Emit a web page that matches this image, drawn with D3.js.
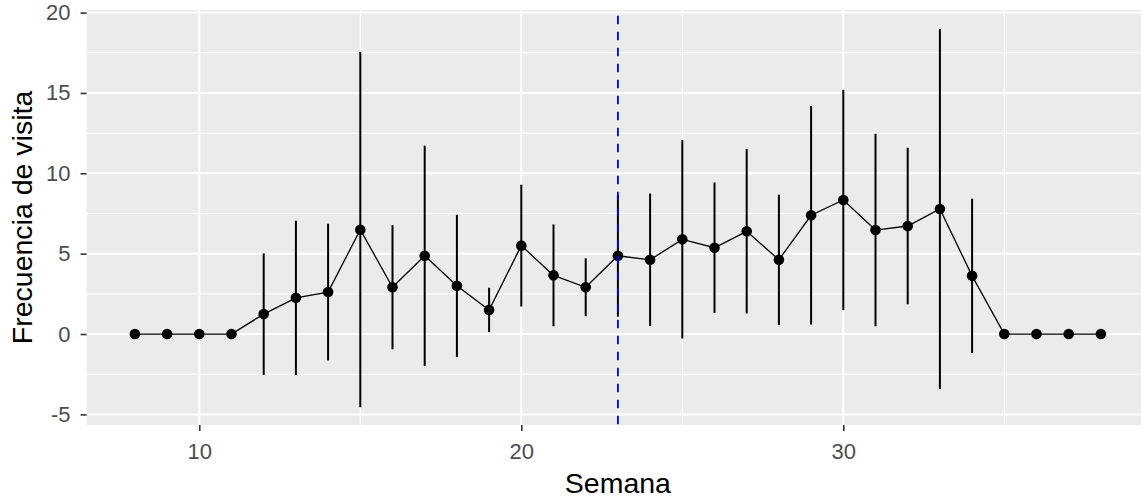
<!DOCTYPE html>
<html>
<head>
<meta charset="utf-8">
<script src="https://cdn.jsdelivr.net/npm/d3@7"></script>
<style>
  html, body { margin: 0; padding: 0; background: #fff; }
  svg { display: block; }
  text { font-family: "Liberation Sans", Arial, sans-serif; }
</style>
</head>
<body>
<svg id="chart" width="1141" height="498"></svg>
<script>
// ---- data ----
const weeks = [8,9,10,11,12,13,14,15,16,17,18,19,20,21,22,23,24,25,26,27,28,29,30,31,32,33,34,35,36,37,38];
const means = [0,0,0,0,1.24,2.25,2.61,6.49,2.91,4.87,3.0,1.5,5.5,3.65,2.91,4.87,4.62,5.89,5.37,6.39,4.62,7.39,8.34,6.47,6.72,7.78,3.62,0,0,0,0];
const sds   = [null,null,null,null,3.78,4.80,4.25,11.05,3.86,6.85,4.42,1.38,3.79,3.17,1.80,3.79,4.12,6.17,4.06,5.11,4.05,6.80,6.86,5.99,4.87,11.2,4.8,null,null,null,null];
const xTicks = [10,20,30];
const xMinor = [15,25,35];
const yTicks = [-5,0,5,10,15,20];
const yMinor = [-2.5,2.5,7.5,12.5,17.5];
const vlineWeek = 23;
const xTitle = "Semana";
const yTitle = "Frecuencia de visita";

// ---- layout ----
const svg = d3.select("#chart");
const panel = {left: 86.6, right: 1149.2, top: 10, bottom: 425};
const x = d3.scaleLinear().domain([6.5, 39.5]).range([panel.left, panel.right]);
const y = d3.scaleLinear().domain([-5.66, 20.16]).range([panel.bottom, panel.top]);
const fmt = d => String(d); // ASCII hyphen for negatives, as in the original

// panel background
svg.append("rect")
  .attr("x", panel.left).attr("y", panel.top)
  .attr("width", panel.right - panel.left).attr("height", panel.bottom - panel.top)
  .attr("fill", "#EBEBEB");

const grid = svg.append("g");
grid.selectAll(".ym").data(yMinor).join("line")
  .attr("x1", panel.left).attr("x2", panel.right)
  .attr("y1", d => y(d)).attr("y2", d => y(d))
  .attr("stroke", "#fff").attr("stroke-width", 1);
grid.selectAll(".xm").data(xMinor).join("line")
  .attr("y1", panel.top).attr("y2", panel.bottom)
  .attr("x1", d => x(d)).attr("x2", d => x(d))
  .attr("stroke", "#fff").attr("stroke-width", 1);
grid.selectAll(".yM").data(yTicks).join("line")
  .attr("x1", panel.left).attr("x2", panel.right)
  .attr("y1", d => y(d)).attr("y2", d => y(d))
  .attr("stroke", "#fff").attr("stroke-width", 2);
grid.selectAll(".xM").data(xTicks).join("line")
  .attr("y1", panel.top).attr("y2", panel.bottom)
  .attr("x1", d => x(d)).attr("x2", d => x(d))
  .attr("stroke", "#fff").attr("stroke-width", 2);

// axes
const xAxis = d3.axisBottom(x).tickValues(xTicks).tickSize(6).tickPadding(12).tickFormat(fmt);
const gx = svg.append("g").attr("transform", `translate(0,${panel.bottom})`).call(xAxis);
gx.select(".domain").remove();
gx.selectAll(".tick line").attr("stroke", "#333333").attr("stroke-width", 1.6);
gx.selectAll(".tick text").attr("fill", "#4D4D4D").attr("font-size", 22);

const yAxis = d3.axisLeft(y).tickValues(yTicks).tickSize(6).tickPadding(10).tickFormat(fmt);
const gy = svg.append("g").attr("transform", `translate(${panel.left},0)`).call(yAxis);
gy.select(".domain").remove();
gy.selectAll(".tick line").attr("stroke", "#333333").attr("stroke-width", 1.6);
gy.selectAll(".tick text").attr("fill", "#4D4D4D").attr("font-size", 22);

// titles
svg.append("text").attr("x", (panel.left + panel.right) / 2).attr("y", 493)
  .attr("text-anchor", "middle").attr("font-size", 28.5).attr("fill", "#000").text(xTitle);
svg.append("text")
  .attr("transform", `translate(32,${(panel.top + panel.bottom) / 2}) rotate(-90)`)
  .attr("text-anchor", "middle").attr("font-size", 28.5).attr("fill", "#000").text(yTitle);

// data
const data = weeks.map((w, i) => ({w, m: means[i], s: sds[i]}));
const plot = svg.append("g");

plot.selectAll(".err").data(data.filter(d => d.s != null)).join("line")
  .attr("x1", d => x(d.w)).attr("x2", d => x(d.w))
  .attr("y1", d => y(d.m - d.s)).attr("y2", d => y(d.m + d.s))
  .attr("stroke", "#000").attr("stroke-width", 2);

plot.append("path").datum(data)
  .attr("d", d3.line().x(d => x(d.w)).y(d => y(d.m)))
  .attr("fill", "none").attr("stroke", "#000").attr("stroke-width", 1.3);

plot.selectAll(".pt").data(data).join("circle")
  .attr("cx", d => x(d.w)).attr("cy", d => y(d.m)).attr("r", 5.3)
  .attr("fill", "#000");

// vertical dashed line
svg.append("line")
  .attr("x1", x(vlineWeek)).attr("x2", x(vlineWeek))
  .attr("y1", panel.top).attr("y2", panel.bottom)
  .attr("stroke", "#0000FF").attr("stroke-width", 1.8)
  .attr("stroke-dasharray", "8.5,7.5").attr("stroke-dashoffset", 10.3);
</script>
</body>
</html>
